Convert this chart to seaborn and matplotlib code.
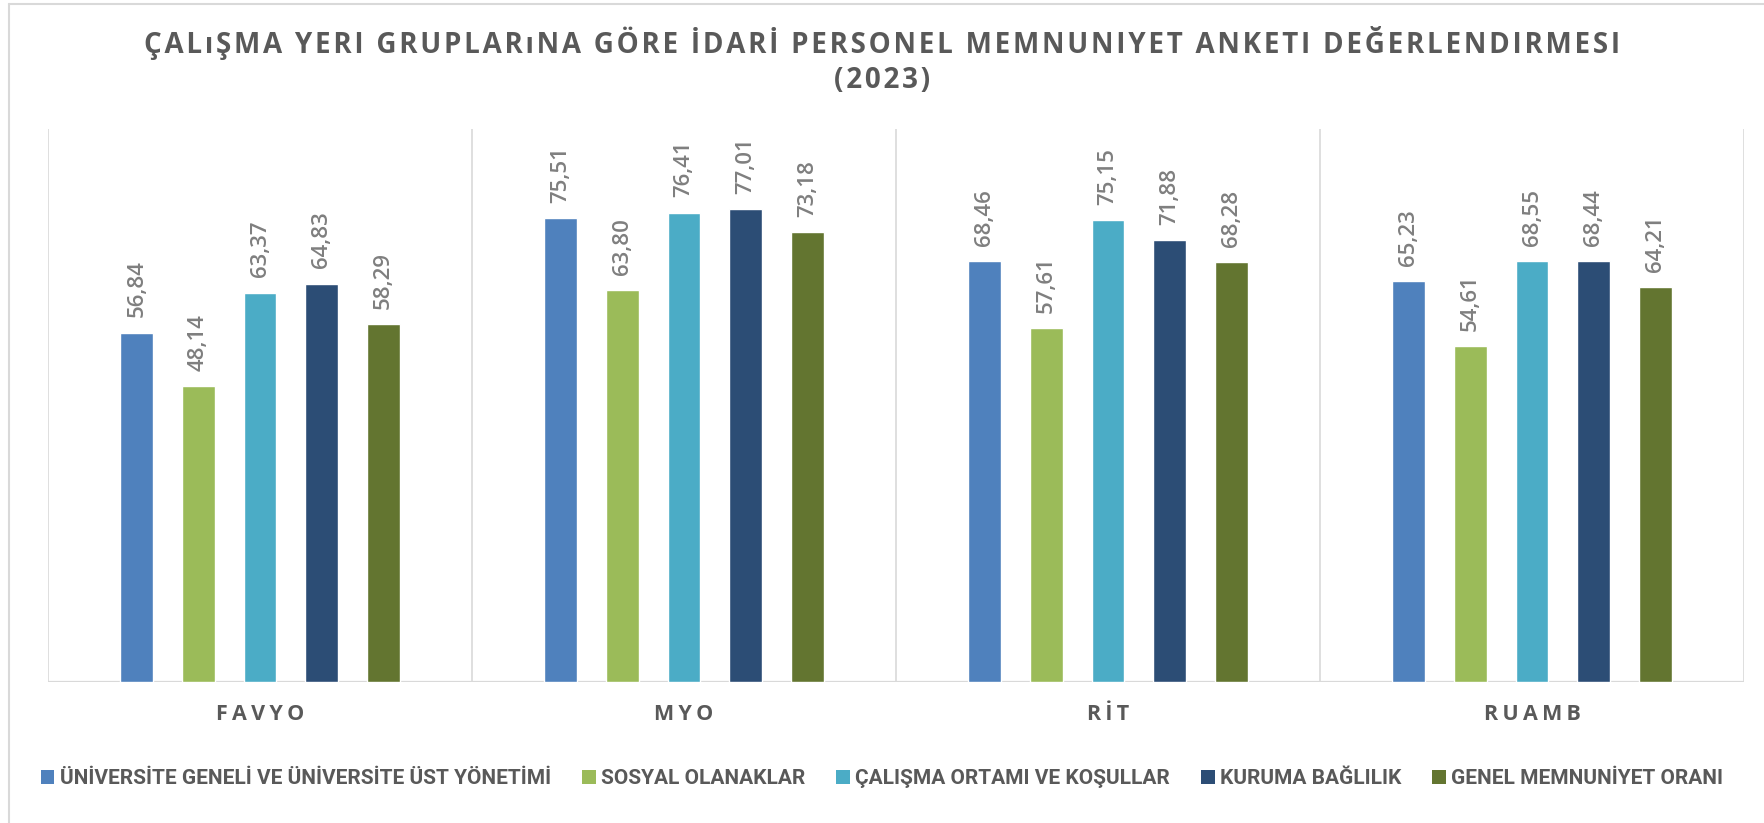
import matplotlib
matplotlib.use("Agg")
import matplotlib.pyplot as plt
import matplotlib.font_manager as fm
from matplotlib.patches import Patch
from matplotlib.lines import Line2D
import pandas as pd
import seaborn as sns

groups = ["FAVYO", "MYO", "RİT", "RUAMB"]
dimensions = [
    "ÜNİVERSİTE GENELİ VE ÜNİVERSİTE ÜST YÖNETİMİ",
    "SOSYAL OLANAKLAR",
    "ÇALIŞMA ORTAMI VE KOŞULLAR",
    "KURUMA BAĞLILIK",
    "GENEL MEMNUNİYET ORANI",
]
univ = [56.84, 75.51, 68.46, 65.23]
sosyal = [48.14, 63.80, 57.61, 54.61]
calisma = [63.37, 76.41, 75.15, 68.55]
kurum = [64.83, 77.01, 71.88, 68.44]
genel = [58.29, 73.18, 68.28, 64.21]
colors = ["#4F81BD", "#9BBB59", "#4BACC6", "#2C4D75", "#637530"]

title_1 = "ÇALıŞMA YERI GRUPLARıNA GÖRE İDARİ PERSONEL MEMNUNIYET ANKETI DEĞERLENDIRMESI"
title_2 = "(2023)"

sns.set_style("white")
names = {f.name for f in fm.fontManager.ttflist}
main_font = ["Open Sans", "DejaVu Sans"]
legend_font = "Liberation Sans Narrow" if "Liberation Sans Narrow" in names else "Roboto"
plt.rcParams["font.family"] = main_font

text_gray = "#595959"
grid_gray = "#d9d9d9"


def spaced(s, sep="\u2009"):
    return sep.join(s)


rows = []
for dim, vals in zip(dimensions, [univ, sosyal, calisma, kurum, genel]):
    for g, v in zip(groups, vals):
        rows.append({"group": g, "dimension": dim, "value": v})
df = pd.DataFrame(rows)

fig = plt.figure(figsize=(17.64, 8.23), dpi=100)
ax = fig.add_axes([48 / 1764, 1 - 682 / 823, (1744 - 48) / 1764, (682 - 129) / 823])

sns.barplot(data=df, x="group", y="value", hue="dimension", order=groups,
            hue_order=dimensions, palette=colors, saturation=1,
            width=0.727, gap=0.47, legend=False, ax=ax)

for cont in ax.containers:
    ax.bar_label(cont, labels=[f"{v:.2f}".replace(".", ",") for v in cont.datavalues],
                 rotation=90, padding=11, color="#7f7f7f", fontsize=16,
                 fontweight="semibold")

ax.set_ylim(0, 90)
ax.set_xlim(-0.5, 3.5)
ax.vlines([-0.5, 0.5, 1.5, 2.5, 3.5], 0, 90, color=grid_gray, lw=1.2, zorder=0)
ax.axhline(0, color=grid_gray, lw=1.6, zorder=0)
for sp in ax.spines.values():
    sp.set_visible(False)
ax.set_yticks([])
ax.set_xlabel("")
ax.set_ylabel("")
ax.set_xticks(range(len(groups)))
ax.set_xticklabels([spaced(g) for g in groups], fontsize=15.5,
                   fontweight="bold", color=text_gray)
ax.tick_params(axis="x", length=0, pad=16)

fig.text(0.5, 1 - 43 / 823, spaced(title_1, "\u200a"), ha="center", va="center",
         fontsize=20, fontweight="bold", color=text_gray)
fig.text(0.5, 1 - 80 / 823, spaced(title_2, "\u200a"), ha="center", va="center",
         fontsize=20, fontweight="bold", color=text_gray)

handles = [Patch(facecolor=c, edgecolor="none", label=d) for c, d in zip(colors, dimensions)]
leg = fig.legend(handles=handles, loc="center", bbox_to_anchor=(0.5, 1 - 779 / 823),
                 ncol=5, frameon=False, handlelength=0.65, handleheight=0.65,
                 handletextpad=0.25, columnspacing=1.5,
                 prop={"family": legend_font, "weight": "bold", "size": 15})
for t in leg.get_texts():
    t.set_color(text_gray)

# chart border (only left and top edges are inside the crop)
fig.lines.append(Line2D([9 / 1764, 9 / 1764], [0, 1 - 4 / 823], transform=fig.transFigure,
                        color=grid_gray, lw=1.5))
fig.lines.append(Line2D([9 / 1764, 1], [1 - 4 / 823, 1 - 4 / 823], transform=fig.transFigure,
                        color=grid_gray, lw=1.5))

fig.savefig("out.png", dpi=100)
